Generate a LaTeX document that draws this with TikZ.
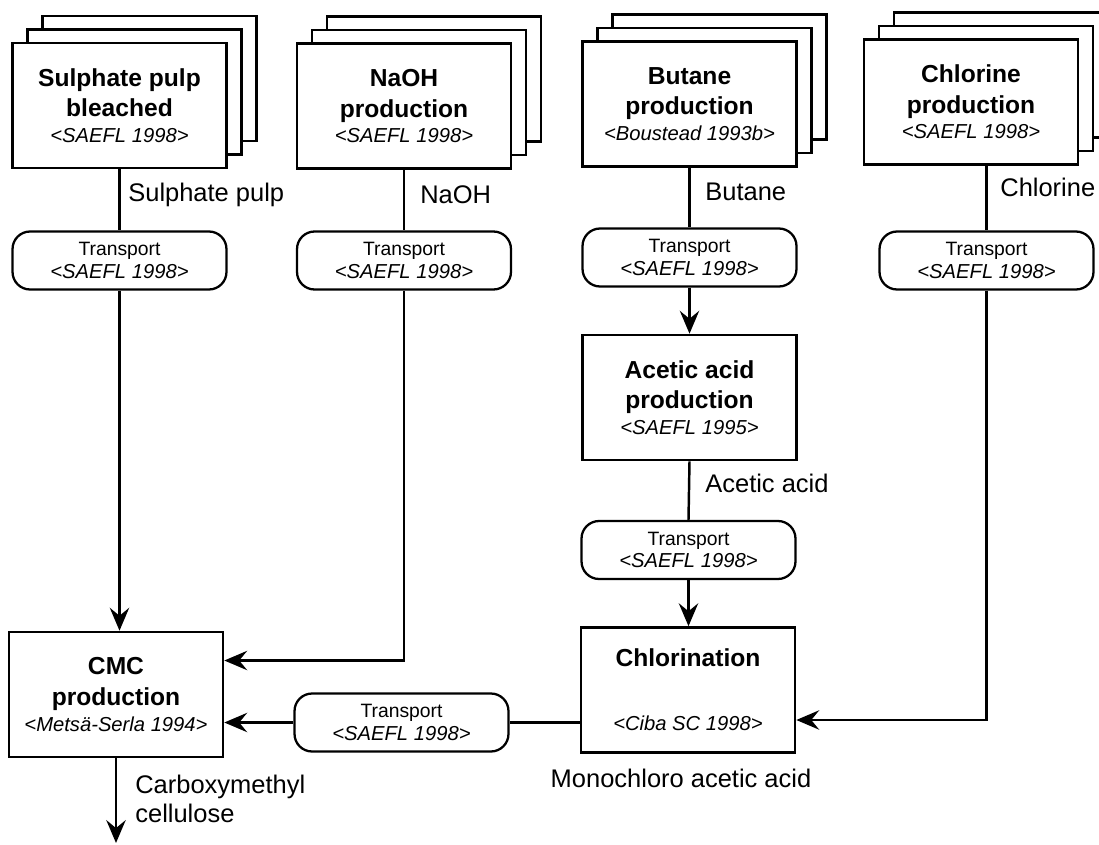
\documentclass[tikz,border=0pt]{standalone}
\usepackage{fontspec}
\setmainfont{Liberation Sans}
\usepackage{tikz}
\usetikzlibrary{positioning,arrows.meta,shadows,calc}

\newcommand{\reffont}{\fontsize{11.5}{13}\selectfont\mdseries\itshape}

\begin{document}
\begin{tikzpicture}[
  x=0.02cm, y=-0.02cm,
  >={Stealth[length=13pt, width=11pt, inset=4.5pt]},
  proc/.style={rectangle, draw, fill=white, line width=1.5pt, align=center,
    minimum width=4.28cm, minimum height=2.5cm, inner sep=2pt,
    font=\fontsize{14}{17.5}\selectfont\bfseries},
  stack/.style={
    copy shadow={shadow xshift=0.6cm, shadow yshift=0.54cm, fill=white, draw=black, line width=1.5pt},
    copy shadow={shadow xshift=0.3cm, shadow yshift=0.27cm, fill=white, draw=black, line width=1.5pt}},
  trans/.style={rectangle, rounded corners=10pt, draw, fill=white, line width=1.3pt, align=center,
    minimum width=4.28cm, minimum height=1.16cm, inner sep=1pt,
    font=\fontsize{11}{13}\selectfont},
  link/.style={line width=1.4pt},
  flow/.style={->, line width=1.4pt},
  lbl/.style={font=\fontsize{14.5}{16.5}\selectfont, inner sep=0pt},
]
\useasboundingbox (0,0) rectangle (1099,845);

% =================== raw material boxes ===================
\node[proc, stack] (pulp) at (119.5,105.5) {Sulphate pulp\\bleached\\[-3pt]{\reffont <SAEFL 1998>}};
\node[proc, stack] (naoh) at (404,106) {NaOH\\production\\[-3pt]{\reffont <SAEFL 1998>}};
\node[proc, stack] (butane) at (689.5,104) {Butane\\production\\[-3pt]{\reffont <Boustead 1993b>}};
\node[proc, stack] (chlorine) at (971,102) {Chlorine\\production\\[-3pt]{\reffont <SAEFL 1998>}};

% =================== transports ===================
\node[trans] (trp1) at (119.5,260.5) {Transport\\{\reffont <SAEFL 1998>}};
\node[trans] (trp2) at (404,260.5) {Transport\\{\reffont <SAEFL 1998>}};
\node[trans] (trp3) at (689.5,257.5) {Transport\\{\reffont <SAEFL 1998>}};
\node[trans] (trp6) at (986.5,260.5) {Transport\\{\reffont <SAEFL 1998>}};
\node[trans] (trp4) at (688.5,550) {Transport\\{\reffont <SAEFL 1998>}};
\node[trans] (trp5) at (401.5,722.5) {Transport\\{\reffont <SAEFL 1998>}};

% =================== processing ===================
\node[proc] (acetic) at (689.5,397.5) {Acetic acid\\production\\[-3pt]{\reffont <SAEFL 1995>}};
\node[proc] (chlor) at (688,690) {Chlorination\\[19pt]{\reffont <Ciba SC 1998>}};
\node[proc] (cmc) at (116,694.5) {CMC\\production\\[-3pt]{\reffont <Metsä-Serla 1994>}};
\coordinate (out) at (116,843);

% =================== flows ===================
\draw[link] (pulp.south) -- (trp1.north);
\draw[flow] (trp1.south) -- (trp1.south |- cmc.north);
\draw[link] (naoh.south) -- (trp2.north);
\draw[flow] (trp2.south) |- ([yshift=0.68cm]cmc.east);
\draw[link] (butane.south) -- (trp3.north);
\draw[flow] (trp3.south) -- (acetic.north);
\draw[link] (acetic.south) -- (trp4.north);
\draw[flow] (trp4.south) -- (trp4.south |- chlor.north);
\draw[link] (trp6.north |- chlorine.south) -- (trp6.north);
\draw[flow] (trp6.south) |- ([yshift=-0.6cm]chlor.east);
\draw[link] (chlor.west |- trp5.east) -- (trp5.east);
\draw[flow] (trp5.west) -- (cmc.east |- trp5.west);
\draw[flow] (cmc.south) -- (out);

% =================== labels ===================
\node[lbl, anchor=west] (lpulp) at (128,195) {Sulphate pulp};
\node[lbl, anchor=west] (lnaoh) at (420,195) {NaOH};
\node[lbl, anchor=west] (lbut) at (705,192) {Butane};
\node[lbl, anchor=west] (lchl) at (1000,187) {Chlorine};
\node[lbl, anchor=west] (lacet) at (705,483) {Acetic acid};
\node[lbl] (lmono) at (681,778) {Monochloro acetic acid};
\node[lbl, anchor=west, align=left] (lcmc) at (135,799) {Carboxymethyl\\cellulose};
\end{tikzpicture}
\end{document}
